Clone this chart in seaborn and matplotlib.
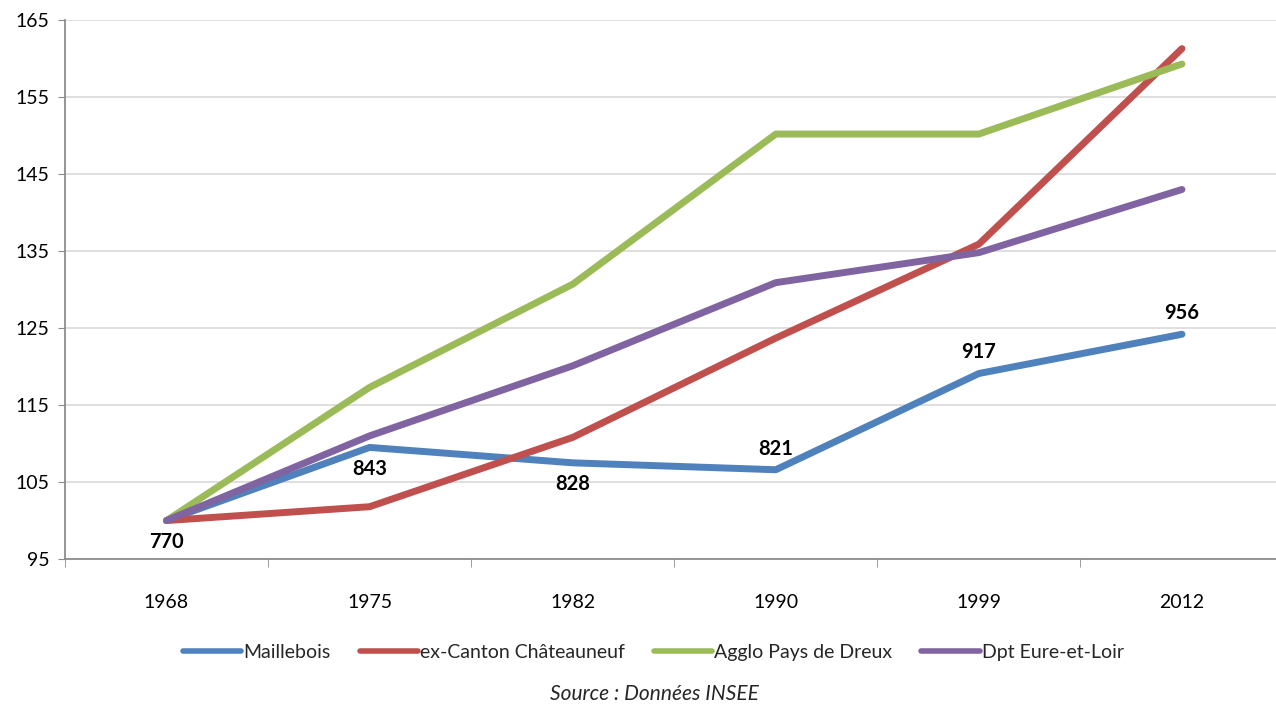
import pandas as pd
import matplotlib.pyplot as plt
import seaborn as sns
import numpy as np

years = ['1968', '1975', '1982', '1990', '1999', '2012']
maillebois = [100.0, 109.5, 107.5, 106.6, 119.1, 124.2]
chateauneuf = [100.0, 101.8, 110.8, 123.7, 135.9, 161.3]
dreux = [100.0, 117.3, 130.7, 150.2, 150.2, 159.3]
eure_loir = [100.0, 111.0, 120.1, 130.9, 134.8, 143.0]
pop_labels = ['770', '843', '828', '821', '917', '956']
label_above = [False, False, False, True, True, True]

series_names = ['Maillebois', 'ex-Canton Châteauneuf', 'Agglo Pays de Dreux', 'Dpt Eure-et-Loir']
colors = ['#4F81BD', '#C0504D', '#9BBB59', '#8064A2']

rows = []
for name, vals in zip(series_names, [maillebois, chateauneuf, dreux, eure_loir]):
    for i, v in enumerate(vals):
        rows.append({'pos': i, 'year': years[i], 'indice': v, 'serie': name})
df = pd.DataFrame(rows)

sns.set_style('white')
plt.rcParams['font.family'] = ['Lato', 'DejaVu Sans']

fig = plt.figure(figsize=(12.76, 7.05), dpi=100)
ax = fig.add_axes([0.0509, 0.207, 0.955, 0.7645])

sns.lineplot(data=df, x='pos', y='indice', hue='serie', palette=colors,
             hue_order=series_names, linewidth=5, sort=False, ax=ax,
             solid_capstyle='round', legend=False)

# labels population Maillebois
for i, (v, lab, up) in enumerate(zip(maillebois, pop_labels, label_above)):
    if up:
        ax.annotate(lab, (i, v), xytext=(0, 8), textcoords='offset points',
                    ha='center', va='bottom', fontsize=14.5, fontweight='bold',
                    color='black')
    else:
        ax.annotate(lab, (i, v), xytext=(0, -8), textcoords='offset points',
                    ha='center', va='top', fontsize=14.5, fontweight='bold',
                    color='black')

ax.set_xlim(-0.5, 5.5)
ax.set_ylim(95, 165)
ax.set_yticks(np.arange(95, 166, 10))
ax.set_xticks(range(len(years)))
ax.set_xticklabels(years)
ax.set_xticks(np.arange(-0.5, 5.6, 1), minor=True)
ax.set_xlabel('')
ax.set_ylabel('')
ax.yaxis.grid(True, color='#D9D9D9', linewidth=1.2)
ax.set_axisbelow(True)

for s in ['top', 'right']:
    ax.spines[s].set_visible(False)
ax.spines['left'].set_color('#8C8C8C')
ax.spines['bottom'].set_color('#8C8C8C')
ax.spines['left'].set_linewidth(1.3)
ax.spines['bottom'].set_linewidth(1.3)

ax.tick_params(axis='y', which='major', left=True, length=5, color='#8C8C8C',
               labelsize=14, pad=6, labelcolor='black')
ax.tick_params(axis='x', which='major', bottom=False, labelsize=14, pad=22,
               labelcolor='black')
ax.tick_params(axis='x', which='minor', bottom=True, length=6, color='#8C8C8C')

handles = [plt.Line2D([], [], color=c, linewidth=4) for c in colors]
fig.legend(handles, series_names, loc='center', bbox_to_anchor=(0.512, 0.075),
           ncol=4, frameon=False, fontsize=14, handlelength=3.0,
           handletextpad=0.1, columnspacing=1.5)

fig.text(0.513, 0.016, 'Source : Données INSEE', ha='center', va='center',
         fontsize=15, style='italic')

plt.savefig('out.png', dpi=100)
